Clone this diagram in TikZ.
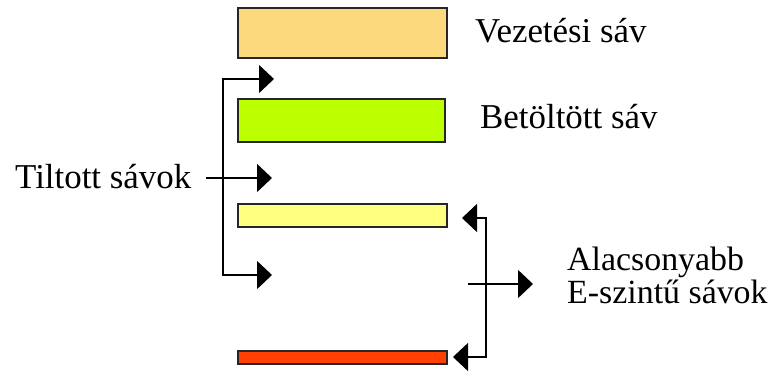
\documentclass[tikz,border=0pt]{standalone}
\usepackage{fontspec}
\setmainfont{Liberation Serif}
\usetikzlibrary{arrows.meta}
\definecolor{bandorange}{HTML}{FDD97E}
\definecolor{bandgreen}{HTML}{BBFF00}
\definecolor{bandyellow}{HTML}{FFFF80}
\definecolor{bandred}{HTML}{FF4000}
\tikzset{
  band/.style={draw=black!85, line width=1.2bp},
  lbl/.style={anchor=base west, inner sep=0pt, font=\fontsize{35}{40}\selectfont},
  lbls/.style={anchor=base west, inner sep=0pt, font=\fontsize{34}{38}\selectfont},
  conn/.style={line width=1.3bp, -{Triangle[length=15bp,width=28bp]}},
  conn2/.style={line width=1.3bp, {Triangle[length=15bp,width=28bp]}-{Triangle[length=15bp,width=28bp]}},
}
\begin{document}
\begin{tikzpicture}[x=1bp,y=-1bp]
\useasboundingbox (0,0) rectangle (777,373);
% bands
\draw[band, fill=bandorange] (238,8) rectangle (447,58);
\draw[band, fill=bandgreen] (238,99) rectangle (445,142);
\draw[band, fill=bandyellow] (238,204) rectangle (447,227);
\draw[band, fill=bandred] (238,351) rectangle (447,364);
% labels
\node[lbl] (vez) at (475,42) {Vezetési sáv};
\node[lbl] (bet) at (480,128) {Betöltött sáv};
\node[lbl] (tilt) at (15,188) {Tiltott sávok};
\node[lbls] (alac) at (567,270) {Alacsonyabb};
\node[lbls] (esz) at (567,303) {E-szintű sávok};
% left bracket
\coordinate (t1) at (274,79);
\coordinate (t2) at (272,178);
\coordinate (t3) at (272,275);
\coordinate (lc) at (223,178);
\coordinate (ls) at (206,178);
\draw[conn2] (t3) -| (lc) |- (t1);
\draw[conn] (ls) -- (t2);
% right bracket
\coordinate (r1) at (462,218);
\coordinate (r2) at (453,357);
\coordinate (rc) at (486,284);
\coordinate (rs) at (468,284);
\coordinate (rt) at (533,284);
\draw[conn2] (r2) -| (rc) |- (r1);
\draw[conn] (rs) -- (rt);
\end{tikzpicture}
\end{document}
